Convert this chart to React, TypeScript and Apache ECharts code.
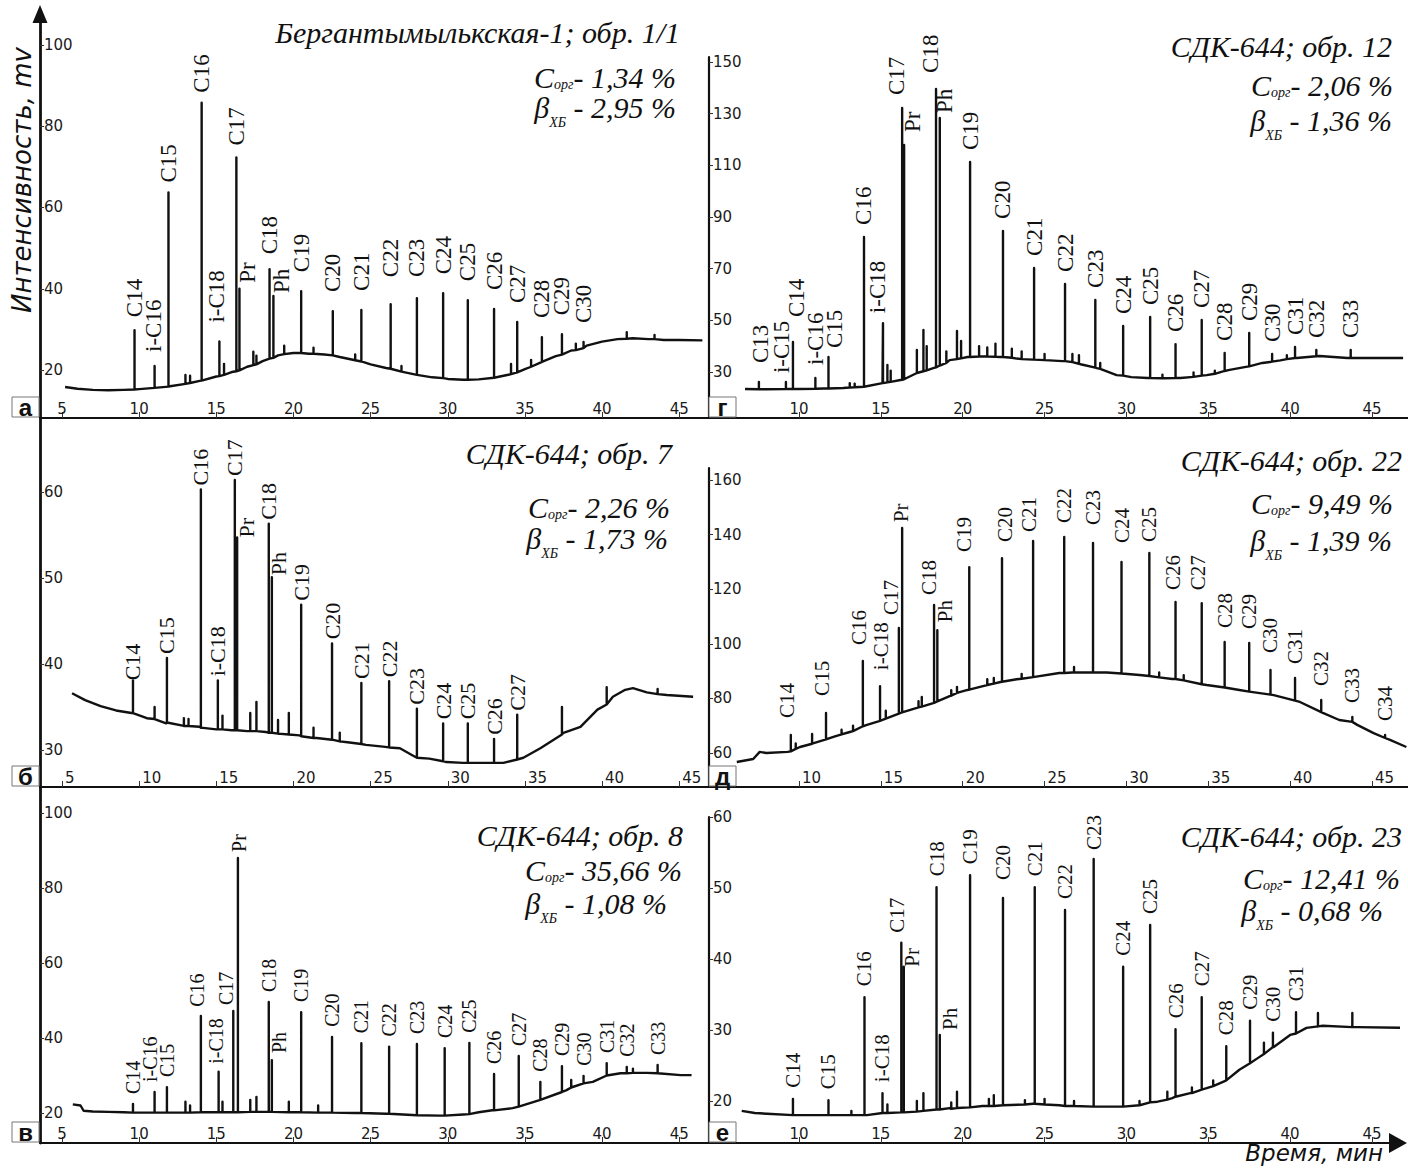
import React, { useEffect, useRef } from 'react';
import * as echarts from 'echarts';

type Peak = [string, number, number, number]; // label, time, base, top

// ---------------- tick labels ----------------
const xTicksLeft = [5, 10, 15, 20, 25, 30, 35, 40, 45];
const xTicksRight = [10, 15, 20, 25, 30, 35, 40, 45];
const yTicksA = [20, 40, 60, 80, 100];
const yTicksB = [30, 40, 50, 60];
const yTicksV = [20, 40, 60, 80, 100];
const yTicksG = [30, 50, 70, 90, 110, 130, 150];
const yTicksD = [60, 80, 100, 120, 140, 160];
const yTicksE = [20, 30, 40, 50, 60];

// ---------------- panel texts ----------------
const panelLetters = ['а', 'б', 'в', 'г', 'д', 'е'];
const sampleNames = [
  'Бергантымылькская-1; обр. 1/1',
  'СДК-644; обр. 7',
  'СДК-644; обр. 8',
  'СДК-644; обр. 12',
  'СДК-644; обр. 22',
  'СДК-644; обр. 23',
];
const corgValues = ['1,34', '2,26', '35,66', '2,06', '9,49', '12,41'];
const betaValues = ['2,95', '1,73', '1,08', '1,36', '1,39', '0,68'];

// ---------------- panel а ----------------
const baselineA = [
  [5.2, 15.8], [6, 15.4], [7, 15.1], [8, 15.0], [9, 15.1], [10, 15.3], [11, 15.6], [12, 16.0],
  [13, 16.6], [14, 17.4], [15, 18.4], [16, 19.5], [17, 20.8], [18, 22.2], [19, 23.6], [20, 24.2],
  [21, 24.0], [22, 23.8], [23, 23.2], [24, 22.4], [25, 21.4], [26, 20.5], [27, 19.6], [28, 18.8],
  [29, 18.2], [30, 17.8], [31, 17.6], [32, 17.7], [33, 18.1], [34, 18.9], [35, 20.2], [36, 21.8],
  [37, 23.4], [38, 24.8], [39, 26.0], [40, 27.0], [41, 27.6], [42, 27.8], [43, 27.6], [44, 27.4],
  [45, 27.4], [46.5, 27.3],
];
const peaksA: Peak[] = [
  ['C14', 9.7, 15.2, 29.8], ['i-C16', 11.0, 15.6, 21.0], ['C15', 11.9, 15.9, 63.7],
  ['', 13.0, 16.6, 18.8], ['', 13.3, 16.8, 18.6], ['C16', 14.05, 17.4, 85.8],
  ['i-C18', 15.2, 18.5, 27.0], ['', 15.5, 18.8, 21.5], ['C17', 16.3, 19.7, 72.3],
  ['Pr', 16.5, 19.9, 40.0], ['', 17.4, 21.2, 24.5], ['', 17.6, 21.4, 23.5],
  ['C18', 18.45, 22.8, 44.8], ['Ph', 18.7, 23.0, 38.2], ['', 19.4, 23.9, 26.0],
  ['C19', 20.5, 24.2, 39.4], ['', 21.3, 24.0, 25.5], ['C20', 22.55, 23.6, 34.5],
  ['', 24.0, 22.4, 23.8], ['C21', 24.4, 22.1, 34.8], ['C22', 26.3, 20.3, 36.2],
  ['', 27.0, 19.6, 21.0], ['C23', 28.0, 18.8, 37.7], ['C24', 29.7, 18.0, 38.9],
  ['C25', 31.3, 17.6, 37.2], ['C26', 33.0, 18.1, 35.0], ['', 34.1, 19.0, 21.5],
  ['C27', 34.5, 19.4, 31.8], ['', 35.4, 20.8, 22.5], ['C28', 36.1, 22.0, 28.1],
  ['C29', 37.4, 23.8, 28.8], ['', 38.3, 24.9, 26.5], ['C30', 38.8, 25.4, 26.9],
  ['', 41.6, 27.7, 29.3], ['', 43.4, 27.6, 28.6],
];

// ---------------- panel б ----------------
const baselineB = [
  [5.65, 36.6], [6.5, 35.8], [7.5, 35.1], [8.5, 34.6], [9.5, 34.3], [10.5, 33.7], [11.75, 33.1],
  [13, 32.8], [13.9, 32.7], [15, 32.4], [16, 32.3], [17, 32.2], [18.2, 32.1], [19, 31.9],
  [20.4, 31.7], [21.5, 31.4], [22.5, 31.2], [23.5, 30.9], [24.7, 30.6], [25.8, 30.4], [26.9, 30.2],
  [27.7, 29.4], [28.8, 29.0], [29.9, 28.6], [31, 28.5], [32.1, 28.5], [33.6, 28.5], [34.9, 29.1],
  [36.0, 30.2], [37.5, 32.0], [38.6, 32.7], [39.7, 34.7], [40.7, 36.2], [41.5, 37.0], [42.0, 37.2],
  [42.9, 36.7], [44.2, 36.4], [45.9, 36.2],
];
const peaksB: Peak[] = [
  ['C14', 9.6, 34.3, 38.1], ['', 11.0, 33.6, 35.0], ['C15', 11.8, 33.2, 40.7],
  ['', 12.9, 32.8, 33.7], ['', 13.2, 32.8, 33.6], ['C16', 14.0, 32.6, 60.3],
  ['i-C18', 15.1, 32.4, 38.1], ['', 15.4, 32.4, 34.0], ['C17', 16.2, 32.3, 61.4],
  ['Pr', 16.35, 32.3, 54.7], ['', 17.2, 32.2, 34.3], ['', 17.6, 32.2, 35.6],
  ['C18', 18.4, 32.0, 56.3], ['Ph', 18.6, 32.0, 50.1], ['', 19.0, 31.9, 33.5],
  ['', 19.7, 31.8, 34.3], ['C19', 20.5, 31.6, 46.9], ['', 21.3, 31.4, 32.6],
  ['C20', 22.5, 31.2, 42.4], ['', 23.0, 31.0, 32.0], ['C21', 24.4, 30.7, 37.8],
  ['C22', 26.2, 30.3, 38.0], ['C23', 28.0, 29.1, 34.8], ['C24', 29.7, 28.7, 33.1],
  ['C25', 31.3, 28.5, 33.1], ['C26', 33.0, 28.5, 31.3], ['C27', 34.5, 28.9, 34.1],
  ['', 37.4, 31.8, 35.0], ['', 40.3, 35.3, 37.3], ['', 43.6, 36.5, 37.1],
];

// ---------------- panel в ----------------
const baselineV = [
  [5.7, 22.3], [6.2, 22.0], [6.4, 20.6], [7, 20.4], [8, 20.3], [9, 20.2], [10, 20.1], [12, 20.1],
  [14, 20.2], [16, 20.2], [18, 20.3], [20, 20.2], [22, 20.1], [24, 20.0], [26, 19.8], [28, 19.4],
  [29.5, 19.3], [31, 19.6], [32, 20.2], [33, 20.8], [34.2, 21.3], [36.0, 23.5], [37.7, 26.1],
  [39.4, 28.3], [40.3, 30.0], [41.2, 30.6], [42.9, 30.7], [45.1, 30.1], [45.8, 30.1],
];
const peaksV: Peak[] = [
  ['C14', 9.6, 20.1, 22.4], ['i-C16', 11.0, 20.1, 25.6], ['C15', 11.8, 20.1, 26.9],
  ['', 13.0, 20.1, 23.0], ['', 13.3, 20.1, 22.0], ['C16', 14.0, 20.2, 45.9],
  ['i-C18', 15.15, 20.2, 31.0], ['', 15.4, 20.2, 23.0], ['C17', 16.1, 20.2, 47.2],
  ['Pr', 16.4, 20.2, 88.0], ['', 17.2, 20.3, 23.5], ['', 17.6, 20.3, 24.3],
  ['C18', 18.4, 20.3, 49.6], ['Ph', 18.6, 20.3, 34.1], ['', 19.7, 20.2, 23.0],
  ['C19', 20.5, 20.2, 46.9], ['', 21.6, 20.1, 22.0], ['C20', 22.5, 20.1, 40.3],
  ['C21', 24.4, 20.0, 38.6], ['C22', 26.2, 19.8, 37.7], ['C23', 28.0, 19.4, 38.4],
  ['C24', 29.8, 19.3, 37.3], ['C25', 31.4, 19.7, 38.7], ['C26', 33.0, 20.7, 30.4],
  ['C27', 34.6, 21.7, 35.2], ['C28', 36.0, 23.5, 28.3], ['C29', 37.4, 25.6, 32.5],
  ['', 38.0, 26.8, 28.8], ['C30', 38.8, 27.9, 29.9], ['C31', 40.3, 30.0, 33.3],
  ['C32', 41.6, 30.6, 32.3], ['', 42.0, 30.7, 31.8], ['C33', 43.6, 30.6, 32.8],
];

// ---------------- panel г ----------------
const baselineG = [
  [6.7, 23.4], [8, 23.3], [10, 23.4], [11.5, 23.6], [12.7, 23.8], [13.7, 24.2], [15.1, 25.7],
  [16.2, 26.9], [17.2, 29.6], [18.2, 31.5], [19.2, 34.6], [20.3, 35.8], [21.3, 36.0], [22.3, 35.8],
  [23.3, 35.2], [24.3, 34.8], [25.3, 34.5], [26.1, 34.2], [27.2, 33.0], [28.2, 31.5], [29.4, 28.8],
  [30.3, 28.0], [31.3, 27.7], [32.3, 27.6], [33.3, 27.7], [34.9, 28.8], [36.3, 30.8], [37.3, 32.0],
  [38.3, 33.5], [39.4, 34.5], [40.4, 35.4], [41.8, 36.2], [43.5, 35.4], [45, 35.4], [46.9, 35.4],
];
const peaksG: Peak[] = [
  ['C13', 7.55, 23.3, 26.1], ['i-C15', 9.2, 23.4, 26.1], ['C14', 9.63, 23.4, 41.6],
  ['i-C16', 11.0, 23.5, 27.7], ['C15', 11.8, 23.6, 35.8], ['', 13.1, 24.0, 25.7],
  ['', 13.4, 24.1, 25.5], ['C16', 13.97, 24.3, 82.3], ['i-C18', 15.13, 25.7, 48.9],
  ['', 15.4, 26.0, 32.7], ['', 15.6, 26.2, 30.5], ['C17', 16.3, 27.0, 132.2],
  ['Pr', 16.42, 27.2, 117.9], ['', 17.2, 29.6, 38.5], ['', 17.6, 30.3, 46.3],
  ['', 17.8, 30.6, 40.0], ['C18', 18.37, 31.8, 139.6], ['Ph', 18.6, 32.5, 128.3],
  ['', 19.0, 33.5, 38.0], ['', 19.65, 35.0, 45.9], ['', 19.9, 35.3, 42.0],
  ['C19', 20.45, 35.8, 111.3], ['', 21.0, 36.0, 40.0], ['', 21.5, 36.0, 39.5],
  ['', 22.0, 35.9, 41.0], ['C20', 22.46, 35.8, 84.6], ['', 23.0, 35.5, 39.0],
  ['', 23.6, 35.0, 38.0], ['C21', 24.36, 34.8, 70.3], ['', 25.0, 34.6, 37.0],
  ['C22', 26.25, 34.2, 64.1], ['', 26.7, 33.8, 37.0], ['', 27.1, 33.2, 36.5],
  ['C23', 28.1, 31.7, 57.9], ['', 28.4, 31.2, 33.5], ['C24', 29.8, 28.6, 47.8],
  ['C25', 31.45, 27.7, 51.3], ['', 32.2, 27.6, 29.0], ['C26', 33.0, 27.7, 40.8],
  ['', 34.1, 28.1, 29.8], ['C27', 34.6, 28.6, 50.1], ['', 35.4, 29.3, 30.5],
  ['C28', 36.0, 30.4, 37.4], ['C29', 37.5, 32.2, 45.1], ['C30', 38.9, 34.0, 37.0],
  ['', 39.8, 35.0, 36.5], ['C31', 40.3, 35.4, 39.7], ['C32', 41.6, 36.1, 38.5],
  ['C33', 43.7, 35.4, 38.5],
];

// ---------------- panel д ----------------
const baselineD = [
  [6.2, 56.7], [7.2, 57.8], [7.6, 60.4], [8.0, 60.0], [9.3, 60.4], [10.06, 62.2], [11.1, 64.0],
  [12.1, 65.9], [13.1, 67.7], [14.15, 70.3], [15.1, 72.1], [16.2, 74.7], [17.2, 76.5], [18.2, 78.3],
  [19.2, 80.8], [20.3, 83.1], [21.3, 84.6], [22.3, 86.0], [23.3, 87.0], [24.3, 87.8], [25.9, 89.3],
  [26.7, 89.5], [28.8, 89.5], [30.8, 88.6], [32.8, 87.1], [34.9, 84.9], [36.9, 83.1], [39.0, 81.2],
  [40.6, 78.7], [42.0, 74.7], [43.0, 72.1], [44.1, 70.3], [45.1, 67.3], [46.1, 64.8], [47.1, 62.2],
];
const peaksD: Peak[] = [
  ['C14', 9.5, 60.6, 66.6], ['', 9.8, 61.5, 63.5], ['', 10.8, 63.4, 67.0],
  ['C15', 11.65, 65.0, 74.7], ['', 12.6, 66.8, 68.5], ['', 13.3, 68.0, 70.0],
  ['C16', 13.9, 69.8, 93.7], ['i-C18', 14.95, 71.8, 84.5], ['', 15.3, 72.6, 75.5],
  ['C17', 16.1, 74.4, 105.8], ['Pr', 16.3, 74.9, 142.4], ['', 17.3, 76.7, 79.0],
  ['', 17.5, 77.0, 80.5], ['C18', 18.25, 78.4, 114.2], ['Ph', 18.45, 78.9, 105.0],
  ['', 19.3, 81.0, 83.0], ['', 19.65, 82.0, 84.2], ['C19', 20.4, 83.2, 128.1],
  ['', 21.5, 84.9, 87.0], ['', 21.9, 85.4, 87.5], ['C20', 22.4, 86.1, 131.4],
  ['', 23.6, 87.2, 89.0], ['C21', 24.3, 87.8, 137.7], ['C22', 26.2, 89.3, 139.1],
  ['', 26.8, 89.5, 91.5], ['C23', 27.96, 89.5, 136.9], ['C24', 29.7, 89.1, 130.0],
  ['C25', 31.4, 88.2, 133.3], ['', 32.0, 87.7, 89.5], ['C26', 33.0, 87.1, 115.3],
  ['', 33.5, 86.6, 88.5], ['C27', 34.6, 85.2, 114.9], ['C28', 36.0, 84.0, 100.7],
  ['C29', 37.5, 82.5, 100.3], ['C30', 38.8, 81.4, 90.4], ['C31', 40.3, 79.2, 87.5],
  ['C32', 41.9, 75.0, 79.4], ['C33', 43.8, 71.4, 73.2], ['C34', 45.8, 65.5, 66.6],
];

// ---------------- panel е ----------------
const baselineE = [
  [6.5, 18.6], [7.3, 18.3], [8.05, 18.2], [10.06, 18.0], [12.1, 18.0], [14.15, 18.0], [15.1, 18.3],
  [17.2, 18.5], [19.2, 19.0], [21.2, 19.3], [24.3, 19.6], [25.9, 19.4], [26.7, 19.3], [28.8, 19.2],
  [30.8, 19.4], [31.9, 19.9], [32.8, 20.4], [33.9, 21.1], [34.9, 21.8], [35.9, 22.7], [36.9, 24.4],
  [38.0, 26.0], [39.0, 27.6], [40.0, 29.3], [41.0, 30.3], [42.0, 30.6], [44.1, 30.4], [47.0, 30.3],
];
const peaksE: Peak[] = [
  ['C14', 9.63, 18.0, 20.3], ['C15', 11.8, 18.0, 20.1], ['', 13.2, 18.0, 18.6],
  ['C16', 14.0, 18.0, 34.6], ['i-C18', 15.1, 18.3, 21.1], ['', 15.4, 18.3, 19.5],
  ['C17', 16.25, 18.4, 42.3], ['Pr', 16.4, 18.4, 38.9], ['', 17.2, 18.5, 20.0],
  ['', 17.6, 18.6, 21.1], ['C18', 18.4, 18.8, 50.1], ['Ph', 18.6, 18.8, 29.3],
  ['', 19.3, 18.9, 19.8], ['', 19.65, 19.0, 21.3], ['C19', 20.45, 19.1, 51.8],
  ['', 21.6, 19.3, 20.3], ['', 21.9, 19.3, 20.8], ['C20', 22.46, 19.4, 48.6],
  ['', 23.8, 19.5, 20.1], ['C21', 24.4, 19.6, 50.1], ['', 25.0, 19.5, 20.3],
  ['C22', 26.25, 19.3, 46.9], ['', 26.8, 19.3, 20.0], ['C23', 28.0, 19.2, 54.1],
  ['C24', 29.8, 19.2, 38.9], ['', 30.8, 19.4, 20.0], ['C25', 31.45, 19.8, 44.8],
  ['', 32.5, 20.2, 21.3], ['C26', 33.0, 20.6, 30.1], ['', 34.0, 21.1, 21.9],
  ['C27', 34.6, 21.6, 34.6], ['', 35.3, 22.1, 22.9], ['C28', 36.1, 22.9, 27.7],
  ['C29', 37.55, 25.3, 31.3], ['', 38.4, 26.6, 28.2], ['C30', 38.95, 27.6, 29.6],
  ['C31', 40.36, 29.5, 32.5], ['', 41.7, 30.5, 32.4], ['', 43.8, 30.4, 32.4],
];

// ---------------- layout / style (kept apart from the data) ----------------
const SERIF = '"Liberation Serif", "Times New Roman", serif';
const SANS = '"DejaVu Sans", Verdana, sans-serif';
const INK = '#111';
const TITLE_FS = 30;

type Nudge = Record<string, [number, number]>; // [dx px, gap px]
const nudgeA: Nudge = {
  C14: [0, 13], 'i-C16': [-1, 14], C15: [0, 10], C16: [0, 10], 'i-C18': [-3, 19], C17: [0, 12],
  Pr: [8, 6], C18: [0, 15], Ph: [8, 3], C22: [0, 27], C23: [0, 21],
};
const nudgeB: Nudge = { C14: [0, 0], Pr: [9, 0], Ph: [7, 2] };
const nudgeV: Nudge = { 'i-C16': [-5, 10], C16: [-4, 9], 'i-C18': [-3, 8], C17: [-7, 6], Pr: [1, 6], Ph: [7, 7] };
const nudgeG: Nudge = {
  C13: [2, 19], 'i-C15': [-4, 9], C14: [4, 25], 'i-C16': [0, 13], C15: [6, 9], 'i-C18': [-5, 10],
  C17: [-6, 13], Pr: [8, 13], C18: [-6, 16], Ph: [5, 5],
};
const nudgeD: Nudge = {
  C14: [-4, 17], C15: [-4, 17], C16: [-4, 16], 'i-C18': [1, 16], C17: [-8, 13], Pr: [-1, 6],
  C18: [-5, 10], Ph: [8, 8], C19: [-5, 15], C20: [3, 16], C21: [-4, 9], C23: [0, 18], C24: [0, 19],
  C25: [0, 11], C26: [-3, 12], C27: [-4, 13], C30: [0, 17],
};
const nudgeE: Nudge = { Pr: [8, 0], Ph: [10, 5], C17: [-4, 10], C20: [0, 18], C23: [0, 9] };

interface PanelCfg {
  baseline: number[][];
  peaks: Peak[];
  left: number; right: number; top: number; bottom: number;
  xMin: number; xMax: number; yMin: number; yMax: number;
  xTicks: number[]; yTicks: number[];
  xAlign: 'center' | 'left';
  gap: number; fs: number; nudge: Nudge;
  title: { x1: number; y1: number; x2: number; y2: number; x3: number; y3: number };
}

const panels: PanelCfg[] = [
  { baseline: baselineA, peaks: peaksA, left: 40, right: 709, top: 14, bottom: 418, xMin: 3.574, xMax: 46.93, yMin: 8.185, yMax: 107.63, xTicks: xTicksLeft, yTicks: yTicksA, xAlign: 'center', gap: 19, fs: 23, nudge: nudgeA, title: { x1: 680, y1: 32.4, x2: 676, y2: 63.4, x3: 676, y3: 85.4 } },
  { baseline: baselineB, peaks: peaksB, left: 40, right: 709, top: 418, bottom: 787, xMin: 3.574, xMax: 46.93, yMin: 25.7, yMax: 68.6, xTicks: xTicksLeft, yTicks: yTicksB, xAlign: 'left', gap: 4, fs: 22, nudge: nudgeB, title: { x1: 672, y1: 453.4, x2: 670, y2: 493.4, x3: 668, y3: 516.4 } },
  { baseline: baselineV, peaks: peaksV, left: 40, right: 709, top: 787, bottom: 1143, xMin: 3.574, xMax: 46.93, yMin: 12.0, yMax: 106.93, xTicks: xTicksLeft, yTicks: yTicksV, xAlign: 'center', gap: 10, fs: 20, nudge: nudgeV, title: { x1: 683, y1: 835.4, x2: 682, y2: 856.4, x3: 667, y3: 881.4 } },
  { baseline: baselineG, peaks: peaksG, left: 709, right: 1408, top: 57, bottom: 418, xMin: 4.502, xMax: 47.2, yMin: 12.19, yMax: 151.94, xTicks: xTicksRight, yTicks: yTicksG, xAlign: 'center', gap: 12, fs: 23, nudge: nudgeG, title: { x1: 1392, y1: 46.4, x2: 1393, y2: 71.4, x3: 1392, y3: 98.4 } },
  { baseline: baselineD, peaks: peaksD, left: 709, right: 1408, top: 468, bottom: 787, xMin: 4.502, xMax: 47.2, yMin: 47.55, yMax: 164.4, xTicks: xTicksRight, yTicks: yTicksD, xAlign: 'left', gap: 14, fs: 21, nudge: nudgeD, title: { x1: 1402, y1: 460.4, x2: 1393, y2: 489.4, x3: 1392, y3: 518.4 } },
  { baseline: baselineE, peaks: peaksE, left: 709, right: 1398, top: 817, bottom: 1143, xMin: 4.502, xMax: 46.59, yMin: 14.08, yMax: 60, xTicks: xTicksRight, yTicks: yTicksE, xAlign: 'center', gap: 11, fs: 21, nudge: nudgeE, title: { x1: 1402, y1: 836.4, x2: 1400, y2: 864.4, x3: 1383, y3: 888.4 } },
];

function traceData(baseline: number[][], peaks: Peak[]) {
  const groups: number[][][] = baseline.map((p) => [[p[0], p[1]]]);
  peaks.forEach(([, t, b, top]) => groups.push([[t, b], [t, top], [t, b]]));
  groups.sort((g1, g2) => g1[0][0] - g2[0][0]);
  return groups.flat();
}

function buildOption() {
  const grid: any[] = [];
  const xAxis: any[] = [];
  const yAxis: any[] = [];
  const series: any[] = [];
  const graphic: any[] = [];

  panels.forEach((p, i) => {
    grid.push({ left: p.left, top: p.top, width: p.right - p.left, height: p.bottom - p.top, containLabel: false });
    xAxis.push({
      type: 'value', gridIndex: i, min: p.xMin, max: p.xMax, position: 'bottom',
      axisLine: {
        show: true, onZero: false, lineStyle: { color: INK, width: 2.2 },
        symbol: i === 5 ? ['none', 'triangle'] : ['none', 'none'], symbolSize: [20, 18],
      },
      axisTick: { show: true, inside: true, length: 6, customValues: p.xTicks, lineStyle: { color: '#333', width: 1 } },
      axisLabel: {
        show: true, inside: true, margin: 2, customValues: p.xTicks, fontFamily: SANS, fontSize: 15,
        color: '#1a1a1a', align: p.xAlign, padding: p.xAlign === 'left' ? [0, 0, 0, 3] : 0,
      },
      splitLine: { show: false },
    });
    yAxis.push({
      type: 'value', gridIndex: i, min: p.yMin, max: p.yMax, position: 'left',
      axisLine: {
        show: true, onZero: false, lineStyle: { color: INK, width: i < 3 ? 2.8 : 2.2 },
        symbol: i === 0 ? ['none', 'triangle'] : ['none', 'none'], symbolSize: [15, 18],
      },
      axisTick: { show: true, inside: true, length: 4, customValues: p.yTicks, lineStyle: { color: '#333', width: 1 } },
      axisLabel: { show: true, inside: true, margin: 4, customValues: p.yTicks, fontFamily: SANS, fontSize: 15, color: '#1a1a1a' },
      splitLine: { show: false },
    });
    series.push({
      type: 'line', xAxisIndex: i, yAxisIndex: i, data: traceData(p.baseline, p.peaks),
      symbol: 'none', showSymbol: false, clip: false, silent: true,
      lineStyle: { color: INK, width: 2.4, join: 'round' },
    });
    const labeled = p.peaks.filter((pk) => pk[0] !== '');
    series.push({
      type: 'custom', xAxisIndex: i, yAxisIndex: i, silent: true, clip: false,
      data: labeled.map((pk) => [pk[1], pk[3]]),
      renderItem: (params: any, api: any) => {
        const name = labeled[params.dataIndex][0];
        const nd = p.nudge[name] || [0, p.gap];
        const pt = api.coord([api.value(0), api.value(1)]);
        return {
          type: 'text', x: pt[0] + nd[0], y: pt[1] - nd[1], rotation: Math.PI / 2,
          style: {
            text: name, fill: INK, font: `${p.fs}px ${SERIF}`,
            align: 'left', verticalAlign: 'middle', textAlign: 'left', textVerticalAlign: 'middle',
          },
        };
      },
    });

    // titles
    const t = p.title;
    const main = { fontFamily: SERIF, fontStyle: 'italic', fontSize: TITLE_FS, fill: INK };
    const sub = { fontFamily: SERIF, fontStyle: 'italic', fontSize: 14, lineHeight: 14, fill: INK, verticalAlign: 'bottom' };
    graphic.push({
      type: 'text', x: t.x1, y: t.y1, z: 100,
      style: { text: sampleNames[i], font: `italic ${TITLE_FS}px ${SERIF}`, fill: INK, align: 'right', verticalAlign: 'middle' },
    });
    graphic.push({
      type: 'text', x: t.x2, y: t.y2, z: 100,
      style: {
        text: `{m|С}{s|орг}{m|- ${corgValues[i]} %}`, align: 'right', verticalAlign: 'top',
        rich: { m: { ...main, lineHeight: 28, verticalAlign: 'middle' }, s: sub },
      },
    });
    graphic.push({
      type: 'text', x: t.x3, y: t.y3, z: 100,
      style: {
        text: `{m|β}{s|ХБ}{m| - ${betaValues[i]} %}`, align: 'right', verticalAlign: 'top',
        rich: { m: { ...main, lineHeight: 44, verticalAlign: 'middle' }, s: sub },
      },
    });

    // panel letter box
    const bx = i < 3 ? 12 : 709;
    graphic.push({
      type: 'rect', z: 100, shape: { x: bx, y: p.bottom - 21, width: 27, height: 20 },
      style: { fill: '#fff', stroke: '#777', lineWidth: 1 },
    });
    graphic.push({
      type: 'text', z: 101, x: bx + 13.5, y: p.bottom - 11,
      style: { text: panelLetters[i], font: `bold 24px "Liberation Sans", Arial, sans-serif`, fill: INK, align: 'center', verticalAlign: 'middle' },
    });
  });

  graphic.push({
    type: 'text', x: 22, y: 180, rotation: Math.PI / 2, z: 100,
    style: { text: 'Интенсивность, mv', font: `italic 26px ${SANS}`, fill: INK, align: 'center', verticalAlign: 'middle' },
  });
  graphic.push({
    type: 'text', x: 1383, y: 1153, z: 100,
    style: { text: 'Время, мин', font: `italic 23px ${SANS}`, fill: INK, align: 'right', verticalAlign: 'middle' },
  });

  return { animation: false, backgroundColor: '#fff', grid, xAxis, yAxis, series, graphic };
}

export default function App() {
  const ref = useRef<HTMLDivElement>(null);
  useEffect(() => {
    document.body.style.margin = '0';
    const chart = echarts.init(ref.current as HTMLDivElement, undefined, { renderer: 'svg' });
    chart.setOption(buildOption() as any);
    return () => chart.dispose();
  }, []);
  return (
    <div
      ref={ref}
      style={{ position: 'absolute', left: 0, top: 0, width: 1408, height: 1168, background: '#fff' }}
    />
  );
}
